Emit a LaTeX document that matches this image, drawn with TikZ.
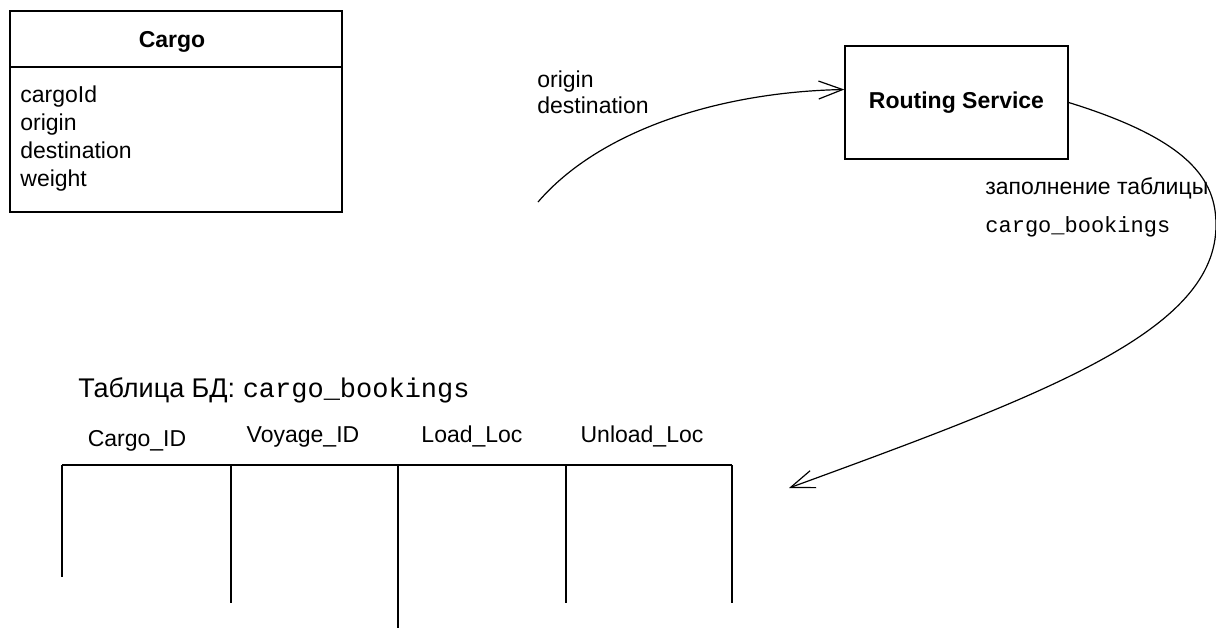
\documentclass[tikz,border=0pt]{standalone}
\usepackage{fontspec}
\setmainfont{Liberation Sans}
\setmonofont{Liberation Mono}
\usetikzlibrary{arrows.meta,calc}

\begin{document}
\begin{tikzpicture}[x=0.5pt,y=-0.5pt,
  txt/.style={inner sep=0pt,anchor=base west,font=\fontsize{11.5}{14}\selectfont},
  colhead/.style={inner sep=0pt,anchor=base,font=\fontsize{11.5}{14}\selectfont},
  frame/.style={line width=0.7pt},
  flow/.style={line width=0.6pt,-{Straight Barb[length=12pt,width=9pt]}}]
  \useasboundingbox (0,0) rectangle (1216,628);
  % Cargo class
  \draw[frame] (10,11) rectangle (342,212);
  \draw[frame] (10,67) -- (342,67);
  \node[inner sep=0pt,anchor=base,font=\fontsize{11.5}{14}\selectfont\bfseries] (cargo) at (172,47) {Cargo};
  \node[txt] (attrid) at (20,102) {cargoId};
  \node[txt] (attrorig) at (20,130) {origin};
  \node[txt] (attrdest) at (20,158) {destination};
  \node[txt] (attrwt) at (20,186) {weight};
  % routing service
  \node[draw,frame,minimum width=111.5pt,minimum height=56.5pt,inner sep=0pt,
        font=\fontsize{11.5}{14}\selectfont\bfseries] (rs) at (956.5,102.5) {Routing Service};
  \coordinate (reqstart) at (538,202);
  \coordinate (tabin) at (789,488);
  \draw[flow] (reqstart) .. controls (600,130) and (720,92) .. ($(rs.west)+(0,-13)$);
  \node[txt] (reqorig) at (537,87) {origin};
  \node[txt] (reqdest) at (537,113) {destination};
  \draw[flow] (rs.east) .. controls (1190,140) and (1216,180) .. (1216,225)
    .. controls (1216,330) and (1052,392) .. (tabin);
  \node[txt] (fillnote) at (985,194) {заполнение таблицы};
  \node[txt,font=\fontsize{11}{14}\selectfont\ttfamily] (filltab) at (985,232) {cargo\_bookings};
  % bookings table
  \node[txt,font=\fontsize{13.5}{16}\selectfont] (tabtitle) at (78,397)
    {Таблица БД: {\ttfamily cargo\_bookings}};
  \node[colhead] (hcargo) at (137,446) {Cargo\_ID};
  \node[colhead] (hvoyage) at (303,442) {Voyage\_ID};
  \node[colhead] (hload) at (472,442) {Load\_Loc};
  \node[colhead] (hunload) at (642,442) {Unload\_Loc};
  \draw[line width=0.6pt] (62,465) -- (732,465);
  \draw[line width=0.6pt] (62,465) -- (62,577);
  \draw[line width=0.6pt] (231,465) -- (231,603);
  \draw[line width=0.6pt] (398,465) -- (398,628);
  \draw[line width=0.6pt] (566,465) -- (566,603);
  \draw[line width=0.6pt] (732,465) -- (732,603);
\end{tikzpicture}
\end{document}
